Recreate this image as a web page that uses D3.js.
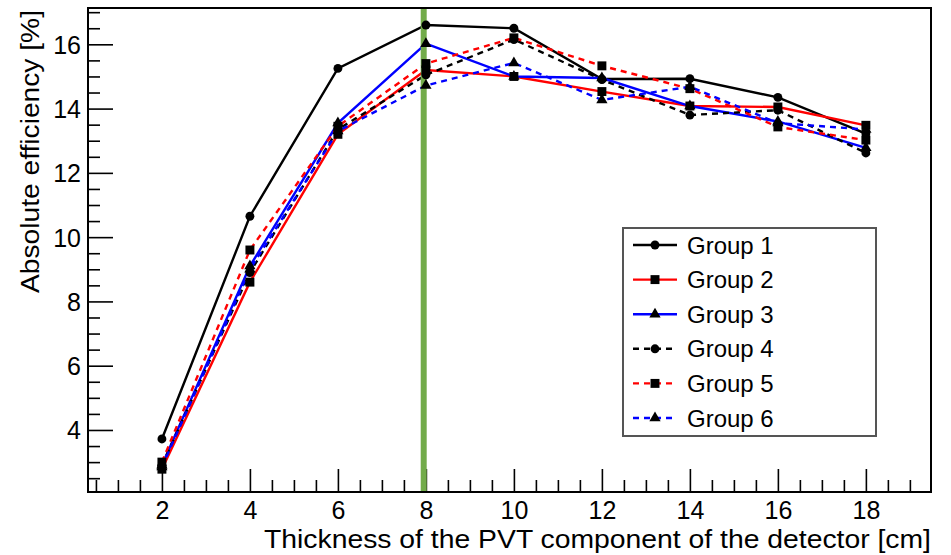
<!DOCTYPE html>
<html>
<head>
<meta charset="utf-8">
<script src="https://cdn.jsdelivr.net/npm/d3@7"></script>
<style>
  html, body { margin: 0; padding: 0; background: #fff; }
  svg { display: block; font-family: "Liberation Sans", Arial, Helvetica, sans-serif; }
</style>
</head>
<body>
<svg id="chart" width="951" height="555"></svg>
<script>
// ---- data ----
const thickness = [2, 4, 6, 8, 10, 12, 14, 16, 18];
const group1 = [3.72, 10.65, 15.25, 16.6, 16.5, 14.92, 14.93, 14.35, 13.22];
const group2 = [2.78, 8.6, 13.2, 15.2, 15.0, 14.53, 14.08, 14.05, 13.48];
const group3 = [2.9, 9.1, 13.55, 16.02, 15.0, 14.95, 14.08, 13.6, 12.78];
const group4 = [2.9, 8.9, 13.35, 15.05, 16.15, 14.9, 13.8, 13.95, 12.62];
const group5 = [3.0, 9.6, 13.45, 15.4, 16.2, 15.33, 14.62, 13.43, 13.02];
const group6 = [2.85, 9.0, 13.3, 14.72, 15.42, 14.27, 14.68, 13.55, 13.35];
const seriesNames = ["Group 1", "Group 2", "Group 3", "Group 4", "Group 5", "Group 6"];
const xTickValues = [2, 4, 6, 8, 10, 12, 14, 16, 18];
const yTickValues = [4, 6, 8, 10, 12, 14, 16];
const selectedThickness = 7.95;
const xTitle = "Thickness of the PVT component of the detector [cm]";
const yTitle = "Absolute efficiency [%]";

// ---- styles ----
const styles = [
  { color: "#000000", dash: null, marker: "circle" },
  { color: "#ff0000", dash: null, marker: "square" },
  { color: "#0000ff", dash: null, marker: "triangle" },
  { color: "#000000", dash: "6,5", marker: "circle" },
  { color: "#ff0000", dash: "6,5", marker: "square" },
  { color: "#0000ff", dash: "6,5", marker: "triangle" }
];
const seriesValues = [group1, group2, group3, group4, group5, group6];

const svg = d3.select("#chart");
const L = 88, R = 931, T = 8, B = 492;

const x = d3.scaleLinear().domain([0.32, 19.48]).range([L, R]);
const y = d3.scaleLinear().domain([2.07, 17.13]).range([B, T]);

// frame
svg.append("rect").attr("x", L).attr("y", T).attr("width", R - L).attr("height", B - T)
  .attr("fill", "none").attr("stroke", "#000").attr("stroke-width", 2);

// minor ticks
const xMinor = d3.range(0.5, 19.01, 0.5).filter(v => Math.abs(v / 2 - Math.round(v / 2)) > 1e-6);
const yMinor = d3.range(2.5, 17.01, 0.5).filter(v => Math.abs(v / 2 - Math.round(v / 2)) > 1e-6);

const xAxisMajor = d3.axisBottom(x).tickValues(xTickValues).tickSize(-23).tickPadding(9).tickFormat(d3.format("d"));
const xAxisMinor = d3.axisBottom(x).tickValues(xMinor).tickSize(-12).tickFormat("");
const yAxisMajor = d3.axisLeft(y).tickValues(yTickValues).tickSize(-25).tickPadding(7).tickFormat(d3.format("d"));
const yAxisMinor = d3.axisLeft(y).tickValues(yMinor).tickSize(-12).tickFormat("");

function styleAxis(g) {
  g.select(".domain").remove();
  g.selectAll("line").attr("stroke", "#000").attr("stroke-width", 1.6);
  g.selectAll("text").attr("fill", "#000").style("font-size", "25px").attr("font-family", null);
}
svg.append("g").attr("transform", `translate(0,${B})`).call(xAxisMinor).call(styleAxis);
svg.append("g").attr("transform", `translate(0,${B})`).call(xAxisMajor).call(styleAxis);
svg.append("g").attr("transform", `translate(0,0)`).call(g => g.attr("transform", `translate(${L},0)`)).call(yAxisMinor).call(styleAxis);
svg.append("g").attr("transform", `translate(${L},0)`).call(yAxisMajor).call(styleAxis)
  .selectAll("text").attr("dy", "0.36em");

// axis titles
svg.append("text").attr("x", R).attr("y", 548).attr("text-anchor", "end")
  .style("font-size", "26px").attr("textLength", 667).attr("lengthAdjust", "spacingAndGlyphs")
  .text(xTitle);
svg.append("text").attr("transform", `translate(39,${T + 2}) rotate(-90)`).attr("text-anchor", "end")
  .style("font-size", "26px").attr("textLength", 283).attr("lengthAdjust", "spacingAndGlyphs")
  .text(yTitle);

// lines
const line = d3.line().x((d, i) => x(thickness[i])).y(d => y(d));
seriesValues.forEach((vals, k) => {
  svg.append("path").datum(vals).attr("d", line)
    .attr("fill", "none").attr("stroke", styles[k].color).attr("stroke-width", 2.4)
    .attr("stroke-dasharray", styles[k].dash);
});

// green vertical marker
svg.append("line").attr("x1", x(selectedThickness)).attr("x2", x(selectedThickness))
  .attr("y1", T + 1).attr("y2", B - 1)
  .attr("stroke", "#72ab4a").attr("stroke-width", 6);

// markers
const symType = { circle: d3.symbolCircle, square: d3.symbolSquare, triangle: d3.symbolTriangle };
const symSize = { circle: 62, square: 80, triangle: 55 };
function drawMarker(g, type, cx, cy) {
  g.append("path").attr("d", d3.symbol().type(symType[type]).size(symSize[type])())
    .attr("transform", `translate(${cx},${cy})`).attr("fill", "#000");
}
seriesValues.forEach((vals, k) => {
  const g = svg.append("g");
  vals.forEach((v, i) => drawMarker(g, styles[k].marker, x(thickness[i]), y(v)));
});

// legend
const lg = svg.append("g");
lg.append("rect").attr("x", 623).attr("y", 228).attr("width", 253).attr("height", 208)
  .attr("fill", "#fff").attr("stroke", "#555").attr("stroke-width", 2);
const legendY = d3.scalePoint().domain(seriesNames).range([245, 418]);
seriesNames.forEach((name, k) => {
  const yy = legendY(name);
  lg.append("line").attr("x1", 633).attr("x2", 677).attr("y1", yy).attr("y2", yy)
    .attr("stroke", styles[k].color).attr("stroke-width", 2.4).attr("stroke-dasharray", styles[k].dash);
  drawMarker(lg, styles[k].marker, 655, yy);
  lg.append("text").attr("x", 687).attr("y", yy).attr("dy", "0.36em")
    .style("font-size", "24px").attr("fill", "#000").text(name);
});
</script>
</body>
</html>
